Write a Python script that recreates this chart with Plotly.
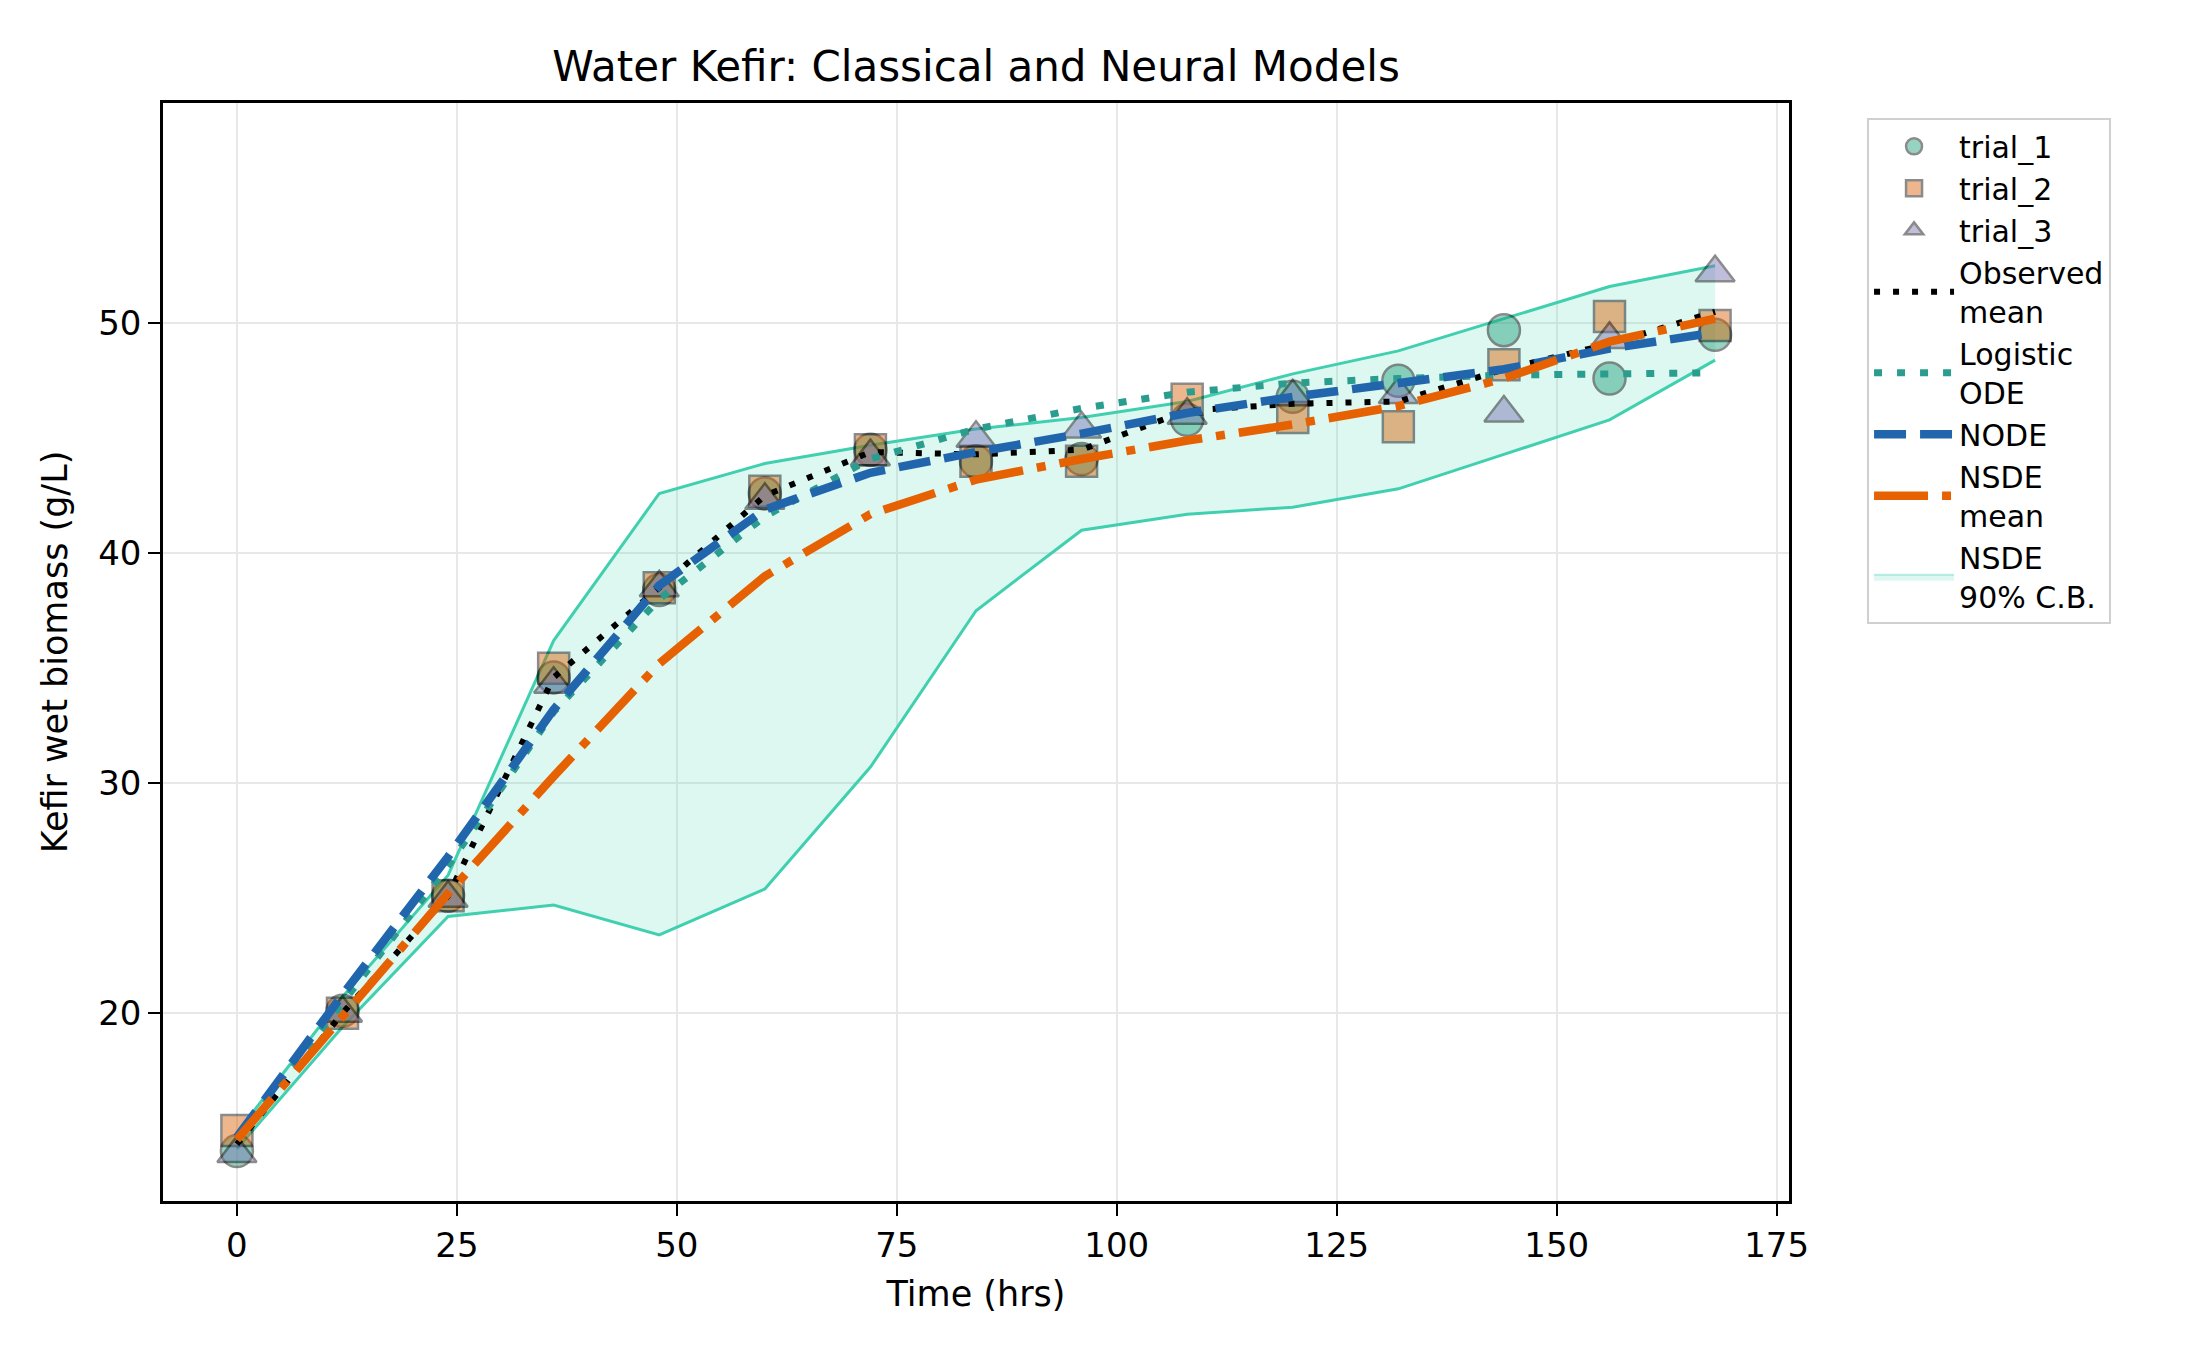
import plotly.graph_objects as go

# sampling times (hrs)
time_hrs = [0, 12, 24, 36, 48, 60, 72, 84, 96, 108, 120, 132, 144, 156, 168]

# measured biomass per trial (g/L)
trial_1 = [14.0, 20.1, 25.1, 34.6, 38.4, 42.6, 44.5, 44.0, 44.1, 45.8, 46.8, 47.5, 49.7, 47.6, 49.5]
trial_2 = [14.9, 20.0, 25.1, 35.0, 38.5, 42.7, 44.5, 44.0, 44.0, 46.7, 45.9, 45.5, 48.2, 50.3, 49.9]
trial_3 = [13.9, 20.0, 25.0, 34.3, 38.5, 42.3, 44.2, 45.0, 45.4, 46.0, 46.8, 46.9, 46.1, 49.3, 52.2]
obs_mean = [14.3, 20.0, 25.1, 34.6, 38.5, 42.5, 44.4, 44.3, 44.5, 46.2, 46.5, 46.6, 48.0, 49.1, 50.5]

# model curves
logistic_ode = [14.5, 20.5, 26.4, 33.1, 38.0, 41.6, 44.1, 45.4, 46.3, 47.0, 47.4, 47.6, 47.75, 47.8, 47.85]
node = [14.6, 20.8, 26.8, 33.2, 38.6, 41.9, 43.5, 44.4, 45.2, 46.1, 46.8, 47.4, 48.0, 48.9, 49.6]
nsde_mean = [14.5, 19.9, 25.2, 30.3, 35.2, 39.0, 41.7, 43.2, 44.1, 44.9, 45.6, 46.4, 47.6, 49.2, 50.2]
nsde_lo = [14.1, 19.4, 24.2, 24.7, 23.4, 25.4, 30.7, 37.5, 41.0, 41.7, 42.0, 42.8, 44.3, 45.8, 48.4]
nsde_hi = [14.8, 20.7, 26.0, 36.2, 42.6, 43.9, 44.7, 45.4, 45.9, 46.6, 47.8, 48.8, 50.2, 51.6, 52.5]

FONT = "DejaVu Sans"
band_edge = "#40d0b0"
band_fill = "rgba(64,208,176,0.18)"

fig = go.Figure()

# confidence band first so everything else sits on top
fig.add_trace(go.Scatter(x=time_hrs, y=nsde_lo, mode="lines",
                         line=dict(color=band_edge, width=3),
                         showlegend=False, hoverinfo="skip"))
fig.add_trace(go.Scatter(x=time_hrs, y=nsde_hi, mode="lines", fill="tonexty",
                         fillcolor=band_fill, line=dict(color=band_edge, width=3),
                         showlegend=False))
# legend entry for the band (filled patch)
fig.add_trace(go.Scatter(x=[None], y=[None], mode="lines", fill="toself",
                         fillcolor=band_fill,
                         line=dict(color="rgba(64,208,176,0.35)", width=2),
                         name="NSDE<br>90% C.B.", legendrank=2000))

# trial markers
trials = [
    ("trial_1", trial_1, "circle", "#1b9e77", 32),
    ("trial_2", trial_2, "square", "#d95f02", 31),
    ("trial_3", trial_3, "triangle-up", "#7570b3", 34),
]
for name, vals, sym, col, size in trials:
    fig.add_trace(go.Scatter(
        x=time_hrs, y=vals, mode="markers", name=name,
        marker=dict(symbol=sym, size=size, color=col, opacity=0.45,
                    line=dict(color="black", width=2.5))
    ))

# model lines
fig.add_trace(go.Scatter(x=time_hrs, y=obs_mean, mode="lines", name="Observed<br>mean",
                         line=dict(color="black", width=6, dash="6px,13px")))
fig.add_trace(go.Scatter(x=time_hrs, y=logistic_ode, mode="lines", name="Logistic<br>ODE",
                         line=dict(color="#2a9d8f", width=7, dash="8px,15px")))
fig.add_trace(go.Scatter(x=time_hrs, y=node, mode="lines", name="NODE",
                         line=dict(color="#2166ac", width=8.5, dash="32px,14px")))
fig.add_trace(go.Scatter(x=time_hrs, y=nsde_mean, mode="lines", name="NSDE<br>mean",
                         line=dict(color="#e66101", width=8.5, dash="54px,14px,9px,14px")))

axis_common = dict(
    showline=True, linecolor="black", linewidth=2.5, mirror=True,
    ticks="outside", ticklen=12, tickwidth=2, tickcolor="black",
    showgrid=True, gridcolor="#e8e8e8", gridwidth=2, zeroline=False,
    tickfont=dict(family=FONT, size=34, color="black"),
)

fig.update_layout(
    width=2202, height=1350,
    paper_bgcolor="white", plot_bgcolor="white",
    margin=dict(l=155, r=421, t=95, b=157),
    font=dict(family=FONT, color="black"),
    title=dict(text="Water Kefir: Classical and Neural Models",
               x=0.5, xref="paper", y=1 - 58 / 1350, yanchor="middle",
               font=dict(family=FONT, size=42, color="black")),
    xaxis=dict(range=[-8.4, 176.4], tick0=0, dtick=25,
               title=dict(text="Time (hrs)", font=dict(family=FONT, size=35), standoff=18),
               **axis_common),
    yaxis=dict(range=[11.83, 59.58], tick0=0, dtick=10,
               title=dict(text="Kefir wet biomass (g/L)", font=dict(family=FONT, size=35), standoff=20),
               **axis_common),
    legend=dict(x=1.048, y=0.986, xanchor="left", yanchor="top",
                bordercolor="#d0d0d0", borderwidth=2, bgcolor="white",
                font=dict(family=FONT, size=30, color="black"),
                itemwidth=80, traceorder="normal"),
)

fig.write_html("out.html")
